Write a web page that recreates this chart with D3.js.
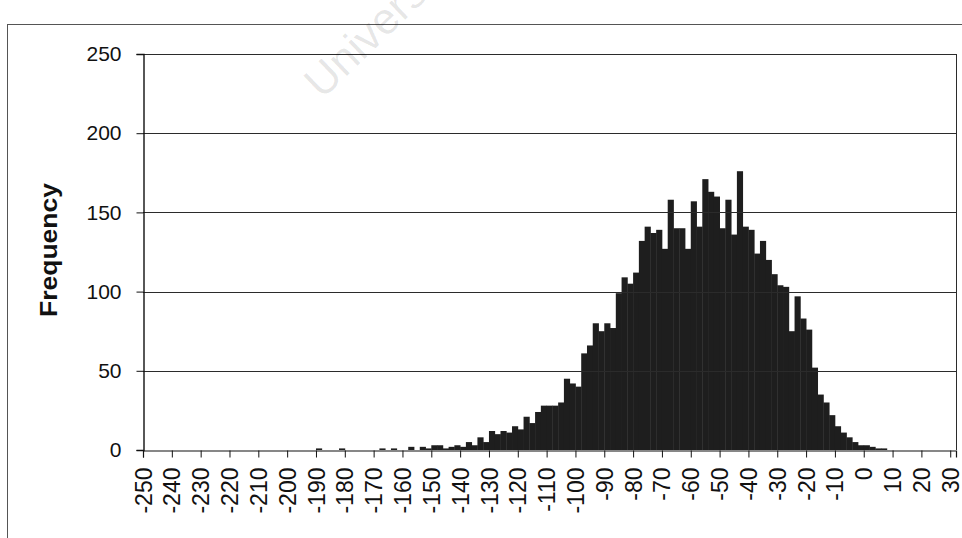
<!DOCTYPE html>
<html>
<head>
<meta charset="utf-8">
<script src="https://cdn.jsdelivr.net/npm/d3@7"></script>
<style>
  html, body { margin: 0; padding: 0; background: #fff; }
  svg { display: block; }
  text { font-family: "Liberation Sans", Arial, Helvetica, sans-serif; }
</style>
</head>
<body>
<svg id="chart" width="962" height="538"></svg>
<script>
// Histogram bins: lower edge of each 2-unit bin
const binStarts = [
  -250,-248,-246,-244,-242,-240,-238,-236,-234,-232,-230,-228,-226,-224,-222,-220,-218,-216,-214,-212,
  -210,-208,-206,-204,-202,-200,-198,-196,-194,-192,-190,-188,-186,-184,-182,-180,-178,-176,-174,-172,
  -170,-168,-166,-164,-162,-160,-158,-156,-154,-152,-150,-148,-146,-144,-142,-140,-138,-136,-134,-132,
  -130,-128,-126,-124,-122,-120,-118,-116,-114,-112,-110,-108,-106,-104,-102,-100,-98,-96,-94,-92,
  -90,-88,-86,-84,-82,-80,-78,-76,-74,-72,-70,-68,-66,-64,-62,-60,-58,-56,-54,-52,
  -50,-48,-46,-44,-42,-40,-38,-36,-34,-32,-30,-28,-26,-24,-22,-20,-18,-16,-14,-12,
  -10,-8,-6,-4,-2,0,2,4,6,8,10,12,14,16,18,20,22,24,26,28,30
];
const binWidth = 2;

// Frequency of each bin
const frequencies = [
  0,0,0,0,0,0,0,0,0,0,0,0,0,0,0,0,0,0,0,0,
  0,0,0,0,0,0,0,0,0,0,1,0,0,0,1,0,0,0,0,0,
  0,1,0,1,0,0,2,0,2,1,3,3,1,2,3,2,5,3,8,5,
  12,10,12,11,15,13,21,17,24,28,28,28,30,45,42,40,61,66,80,75,
  80,77,99,109,105,112,132,141,137,139,127,158,140,140,127,157,141,171,163,160,
  140,158,136,176,141,139,124,132,120,111,104,103,75,97,83,76,52,35,30,22,
  15,11,8,5,3,3,2,1,1,0,0,0,0,0,0,0,0,0,0,0,0
];

const xTickValues = [-250,-240,-230,-220,-210,-200,-190,-180,-170,-160,-150,-140,-130,-120,
  -110,-100,-90,-80,-70,-60,-50,-40,-30,-20,-10,0,10,20,30];
const yTickValues = [0, 50, 100, 150, 200, 250];
const yTitle = "Frequency";
const watermark = "University";

const svg = d3.select("#chart");
const plotLeft = 143, plotRight = 956, plotTop = 54, plotBottom = 450;

const x = d3.scaleLinear().domain([-250, 32]).range([plotLeft, plotRight]);
const y = d3.scaleLinear().domain([0, 250]).range([plotBottom, plotTop]);

// outer frame (left and top edges)
svg.append("line").attr("x1", 7.5).attr("x2", 7.5).attr("y1", 24).attr("y2", 538)
  .attr("stroke", "#555").attr("stroke-width", 1);
svg.append("line").attr("x1", 7).attr("x2", 962).attr("y1", 24.5).attr("y2", 24.5)
  .attr("stroke", "#555").attr("stroke-width", 1);

// bars
const data = binStarts.map((b, i) => ({ b, v: frequencies[i] }));
svg.append("g")
  .selectAll("rect")
  .data(data.filter(d => d.v > 0))
  .join("rect")
  .attr("x", d => x(d.b))
  .attr("width", d => x(d.b + binWidth) - x(d.b) + 0.4)
  .attr("y", d => y(d.v))
  .attr("height", d => y(0) - y(d.v))
  .attr("fill", "#1e1e1e");

// horizontal gridlines
svg.append("g")
  .selectAll("line")
  .data(yTickValues.filter(v => v > 0))
  .join("line")
  .attr("x1", plotLeft).attr("x2", plotRight)
  .attr("y1", d => Math.round(y(d)) + 0.5).attr("y2", d => Math.round(y(d)) + 0.5)
  .attr("stroke", "#2b2b2b").attr("stroke-width", 1);

// plot area right edge
svg.append("line").attr("x1", plotRight + 0.5).attr("x2", plotRight + 0.5)
  .attr("y1", y(250)).attr("y2", y(0))
  .attr("stroke", "#2b2b2b").attr("stroke-width", 1);

// y axis
const yAxis = svg.append("g")
  .attr("transform", `translate(${plotLeft + 0.5},0)`)
  .call(d3.axisLeft(y).tickValues(yTickValues).tickSize(7).tickPadding(15));
yAxis.select(".domain").attr("stroke", "#111").attr("stroke-width", 1.4);
yAxis.selectAll(".tick line").attr("stroke", "#111");
yAxis.selectAll("text").attr("font-size", 21).attr("fill", "#111");

// x axis
const xAxis = svg.append("g")
  .attr("transform", `translate(0,${plotBottom + 0.5})`)
  .call(d3.axisBottom(x).tickValues(xTickValues).tickSize(7).tickFormat(d => d));
xAxis.select(".domain").attr("stroke", "#111").attr("stroke-width", 1.2);
xAxis.selectAll(".tick line").attr("stroke", "#111");
xAxis.selectAll("text")
  .attr("font-size", 23)
  .attr("fill", "#111")
  .attr("transform", "rotate(-90)")
  .attr("x", -17)
  .attr("y", 0)
  .attr("dy", "0.35em")
  .style("text-anchor", "end");

// y axis title
svg.append("text")
  .attr("transform", "translate(57,250) rotate(-90)")
  .attr("text-anchor", "middle")
  .attr("font-size", 23)
  .attr("font-weight", "bold")
  .attr("fill", "#111")
  .attr("textLength", 134)
  .attr("lengthAdjust", "spacingAndGlyphs")
  .text(yTitle);

// faint watermark
svg.append("text")
  .attr("transform", "translate(322,100) rotate(-44)")
  .attr("font-size", 44)
  .attr("fill", "#000")
  .attr("fill-opacity", 0.1)
  .text(watermark);
</script>
</body>
</html>
